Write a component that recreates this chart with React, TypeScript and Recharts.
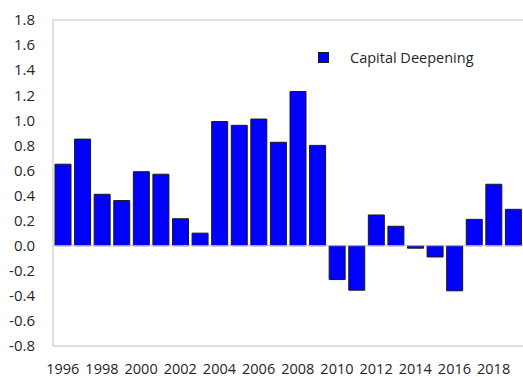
import React from 'react'
import { BarChart, Bar, XAxis, YAxis, ReferenceLine } from 'recharts'

const years = [
  '1996', '1997', '1998', '1999', '2000', '2001', '2002', '2003',
  '2004', '2005', '2006', '2007', '2008', '2009', '2010', '2011',
  '2012', '2013', '2014', '2015', '2016', '2017', '2018', '2019',
]
const capitalDeepening = [
  0.65, 0.85, 0.41, 0.36, 0.59, 0.57, 0.215, 0.1,
  0.99, 0.96, 1.01, 0.825, 1.23, 0.8, -0.27, -0.355,
  0.245, 0.155, -0.02, -0.09, -0.36, 0.21, 0.49, 0.29,
]
const yTicks = [-0.8, -0.6, -0.4, -0.2, 0, 0.2, 0.4, 0.6, 0.8, 1.0, 1.2, 1.4, 1.6, 1.8]

const data = years.map((year, i) => ({ year, value: capitalDeepening[i] }))

const font = '"Open Sans", "Noto Sans", sans-serif'
const textColor = '#262626'
const borderColor = '#c0c0c0'

const LegendBox = () => (
  <div style={{ display: 'flex', alignItems: 'center', fontFamily: font, fontSize: 14.5, color: textColor }}>
    <span
      style={{
        display: 'inline-block',
        width: 9,
        height: 9,
        background: '#0000ff',
        border: '1px solid #1a1a1a',
        marginRight: 21,
      }}
    />
    <span>Capital Deepening</span>
  </div>
)

export default function App() {
  return (
    <div style={{ position: 'absolute', left: 0, top: 0, width: 523, height: 377, background: '#fff' }}>
      <BarChart
        width={523}
        height={377}
        data={data}
        margin={{ top: 20, right: 0, left: 0, bottom: 0 }}
        barSize={16}
      >
        <XAxis
          dataKey="year"
          interval={1}
          height={31}
          tickLine={false}
          tickSize={0}
          tickMargin={18}
          axisLine={{ stroke: borderColor }}
          tick={{ fontSize: 14.5, fill: textColor, fontFamily: font }}
        />
        <YAxis
          domain={[-0.8, 1.8]}
          ticks={yTicks}
          width={53}
          tickLine={false}
          tickSize={0}
          tickMargin={18}
          axisLine={{ stroke: borderColor }}
          tickFormatter={(v: number) => v.toFixed(1)}
          tick={{ fontSize: 15, fill: textColor, fontFamily: font }}
          allowDataOverflow
        />
        <ReferenceLine y={1.8} stroke={borderColor} />
        <ReferenceLine y={0} stroke={borderColor} />
        <Bar dataKey="value" fill="#0000ff" stroke="#1a1a1a" strokeWidth={1} isAnimationActive={false} />
        <foreignObject x={318} y={48} width={200} height={22}>
          <LegendBox />
        </foreignObject>
      </BarChart>
    </div>
  )
}
